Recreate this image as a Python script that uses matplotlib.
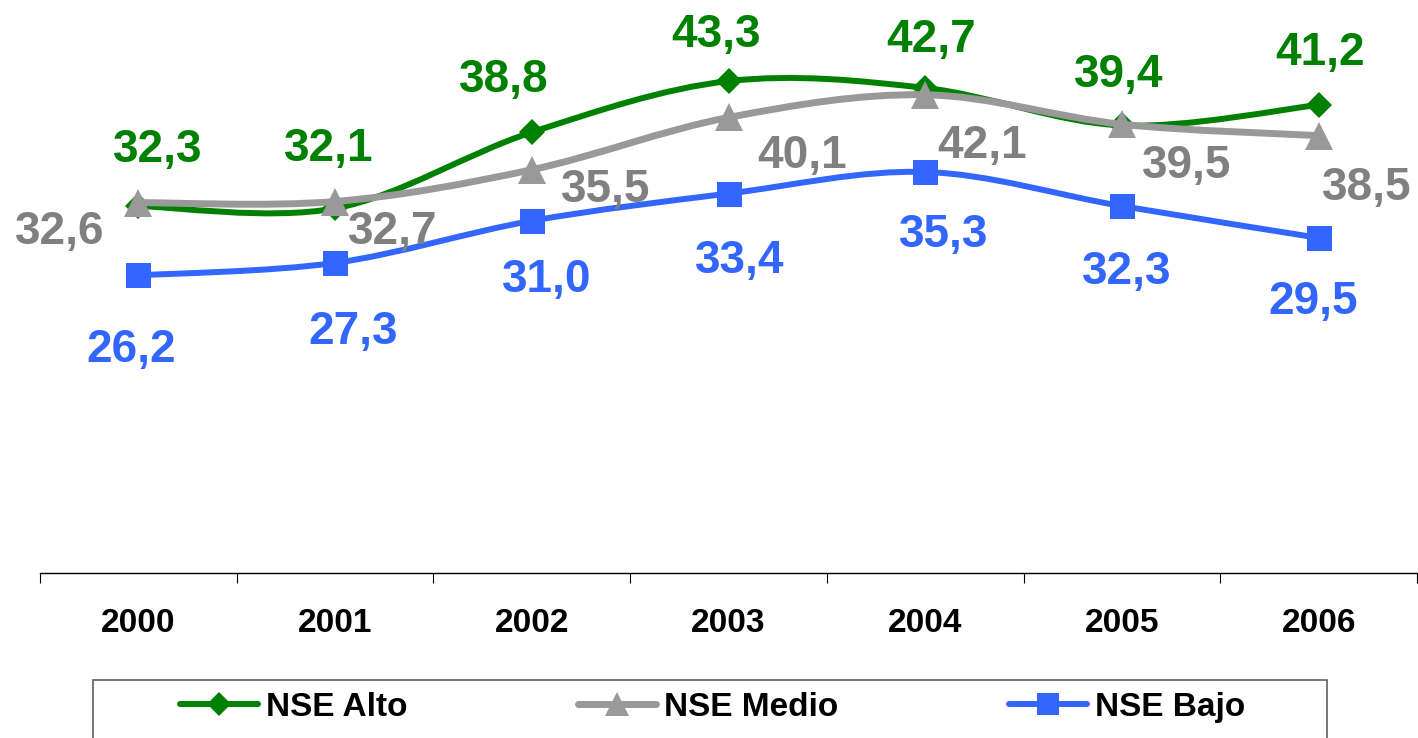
import numpy as np
import matplotlib
matplotlib.use('Agg')
import matplotlib.pyplot as plt
from matplotlib.path import Path
from matplotlib.patches import PathPatch, Rectangle
from matplotlib.lines import Line2D
from matplotlib.ticker import FixedLocator

plt.rcParams['font.family'] = ['Liberation Sans', 'DejaVu Sans']

years = ['2000', '2001', '2002', '2003', '2004', '2005', '2006']
alto = [32.3, 32.1, 38.8, 43.3, 42.7, 39.4, 41.2]
medio = [32.6, 32.7, 35.5, 40.1, 42.1, 39.5, 38.5]
bajo = [26.2, 27.3, 31.0, 33.4, 35.3, 32.3, 29.5]
names = ['NSE Alto', 'NSE Medio', 'NSE Bajo']

# where each data label sits, pixels from its point (y up)
alto_off = [(19, 60), (-6, 63), (-28, 56), (-12, 50), (6, 52), (-3, 54), (1, 56)]
medio_off = [(-79, -25), (58, -26), (74, -16), (74, -35), (57, -47), (65, -38), (48, -48)]
bajo_off = [(-7, -71), (18, -65), (15, -55), (11, -63), (18, -59), (5, -62), (-6, -60)]


def smooth_path(xs, ys):
    # excel-like smoothed line: cubic bezier through the points
    pts = np.column_stack([xs, ys]).astype(float)
    ext = np.vstack([pts[0], pts, pts[-1]])
    verts = [pts[0]]
    codes = [Path.MOVETO]
    for i in range(len(pts) - 1):
        p0, p1, p2, p3 = ext[i], ext[i + 1], ext[i + 2], ext[i + 3]
        verts += [p1 + (p2 - p0) / 6.0, p2 - (p3 - p1) / 6.0, p2]
        codes += [Path.CURVE4] * 3
    return Path(verts, codes)


fig = plt.figure(figsize=(14.18, 7.38), dpi=100)
ax = fig.add_axes([40 / 1418, 165 / 738, 1377 / 1418, 568 / 738])

series = [
    (alto, alto_off, '#008000', '#008000', 'D', 13.3, 4.3),
    (medio, medio_off, '#999999', '#808080', '^', 19.5, 5.0),
    (bajo, bajo_off, '#3366FF', '#3366FF', 's', 18.0, 4.3),
]

x = np.arange(len(years))
handles = []
z = 2
for vals, offs, col, tcol, mk, ms, lw in series:
    ax.add_patch(PathPatch(smooth_path(x, vals), fill=False, edgecolor=col,
                           lw=lw, capstyle='round', joinstyle='round', zorder=z))
    ax.plot(x, vals, linestyle='none', marker=mk, ms=ms, color=col,
            mec=col, mew=0, zorder=z + 0.5)
    for i, v in enumerate(vals):
        dx, dy = offs[i]
        ax.annotate(('%.1f' % v).replace('.', ','), (x[i], v),
                    xytext=(dx, dy - 16), textcoords='offset pixels',
                    ha='center', va='baseline', fontsize=33,
                    fontweight='bold', color=tcol, zorder=10)
    handles.append(Line2D([], [], color=col, lw=lw, marker=mk, ms=ms * 0.9,
                          mew=0, solid_capstyle='round'))
    z += 1

ax.set_xlim(-0.5, 6.5)
ax.set_ylim(0, 50)
for s in ['left', 'right', 'top']:
    ax.spines[s].set_visible(False)
ax.spines['bottom'].set_linewidth(1.0)
ax.set_yticks([])
ax.set_xticks(x)
ax.set_xticklabels(years, fontsize=24, fontweight='bold')
ax.tick_params(axis='x', which='major', length=0, pad=25)
ax.xaxis.set_minor_locator(FixedLocator(np.arange(-0.5, 7, 1)))
ax.tick_params(axis='x', which='minor', length=7, width=0.8, direction='out')

fig.legend(handles, names, loc='center', bbox_to_anchor=(0.5025, 0.042),
           ncol=3, frameon=False, prop={'weight': 'bold', 'size': 24},
           handlelength=2.35, handletextpad=0.25, columnspacing=5.1)
fig.add_artist(Rectangle((93 / 1418, -0.05), 1234 / 1418, 0.05 + 58 / 738,
                         transform=fig.transFigure, fill=False,
                         edgecolor='#606060', lw=1.2))

fig.savefig('out.png', dpi=100)
